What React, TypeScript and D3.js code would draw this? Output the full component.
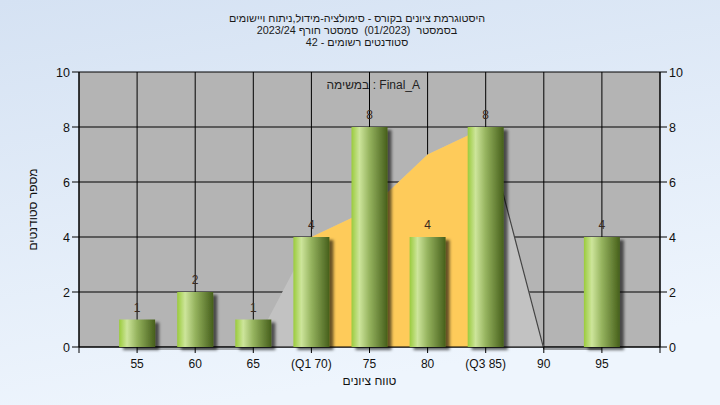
import * as React from 'react';
import * as d3 from 'd3';

// histogram data
const grades = [55, 60, 65, 70, 75, 80, 85, 90, 95];
const gradeLabels = ['55', '60', '65', '(Q1 70)', '75', '80', '(Q3 85)', '90', '95'];
const counts = [1, 2, 1, 4, 8, 4, 8, 0, 4];

// background distribution area (light gray) and quartile range (yellow)
const spreadGrades = [65, 70, 75, 80, 85, 90];
const spreadValues = [0, 4, 5, 7, 8, 0];
const quartileGrades = [70, 75, 80, 85];
const quartileValues = [4, 5, 7, 8];

// outline segments of the distribution line
const lineLeftGrades = [55, 60, 65];
const lineLeftValues = [0, 0, 0];
const lineRightGrades = [85, 90, 95];
const lineRightValues = [8, 0, 0];

const yTicks = [0, 2, 4, 6, 8, 10];
const gridGrades = [50, 55, 60, 65, 70, 75, 80, 85, 90, 95, 100];

const titleLines = [
  'היסטוגרמת ציונים בקורס - סימולציה-מידול,ניתוח ויישומים',
  'בסמסטר  (01/2023)  סמסטר חורף 2023/24',
  'סטודנטים רשומים - 42',
];

const W = 720;
const H = 405;
const margin = { top: 72, right: 60, bottom: 58, left: 79 };
const font = '"Liberation Sans", Arial, sans-serif';

export default function App() {
  const x = d3.scaleLinear().domain([50, 100]).range([margin.left, W - margin.right]);
  const y = d3.scaleLinear().domain([0, 10]).range([H - margin.bottom, margin.top]);
  const x0 = x(50);
  const x1 = x(100);
  const y0 = y(0);
  const yTop = y(10);
  const barW = 36;

  const area = d3.area<[number, number]>()
    .x(d => x(d[0]))
    .y0(y0)
    .y1(d => y(d[1]));
  const line = d3.line<[number, number]>()
    .x(d => x(d[0]))
    .y(d => (d[1] === 0 ? y0 + 2 : y(d[1])));

  const spread = spreadGrades.map((g, i) => [g, spreadValues[i]] as [number, number]);
  const quart = quartileGrades.map((g, i) => [g, quartileValues[i]] as [number, number]);
  const leftLine = lineLeftGrades.map((g, i) => [g, lineLeftValues[i]] as [number, number]);
  const rightLine = lineRightGrades.map((g, i) => [g, lineRightValues[i]] as [number, number]);

  return (
    <svg width={W} height={H} style={{ position: 'absolute', left: 0, top: 0, fontFamily: font }}>
      <defs>
        <linearGradient id="bg" x1="0" y1="0" x2="0.3" y2="1">
          <stop offset="0" stopColor="#d5e2f3" />
          <stop offset="1" stopColor="#eef5fd" />
        </linearGradient>
        <linearGradient id="bar" x1="0" y1="0" x2="1" y2="0">
          <stop offset="0" stopColor="#9acb3c" />
          <stop offset="0.22" stopColor="#cde59b" />
          <stop offset="0.5" stopColor="#95b35e" />
          <stop offset="1" stopColor="#465f1b" />
        </linearGradient>
        <filter id="shadow" x="-30%" y="-10%" width="160%" height="130%">
          <feDropShadow dx="4" dy="3" stdDeviation="1.8" floodColor="#000" floodOpacity="0.6" />
        </filter>
      </defs>

      <rect width={W} height={H} fill="url(#bg)" />

      {/* titles */}
      {titleLines.map((t, i) => (
        <text key={i} x={W / 2 - 3} y={22 + i * 12} textAnchor="middle" direction="rtl"
          fontSize={10.8} fill="#1a1a1a" style={{ whiteSpace: 'pre' }}>{t}</text>
      ))}

      {/* plot area */}
      <rect x={x0} y={yTop} width={x1 - x0} height={y0 - yTop} fill="#b4b4b4" />
      {yTicks.map(t => (
        <line key={'gy' + t} x1={x0} x2={x1} y1={y(t)} y2={y(t)} stroke="#000" strokeWidth={1} />
      ))}
      {gridGrades.map(g => (
        <line key={'gx' + g} x1={x(g)} x2={x(g)} y1={yTop} y2={y0} stroke="#000" strokeWidth={1} />
      ))}

      <path d={area(spread) || ''} fill="#c2c2c2" />
      <path d={area(quart) || ''} fill="#fecb5a" />
      <path d={line(leftLine) || ''} fill="none" stroke="#666" strokeWidth={1} />
      <path d={line(rightLine) || ''} fill="none" stroke="#444" strokeWidth={1.2} />

      <text x={x(71.3)} y={89} fontSize={12} fill="#222">במשימה : Final_A</text>

      {/* axes */}
      <line x1={x0} x2={x0} y1={yTop} y2={y0} stroke="#000" />
      <line x1={x1} x2={x1} y1={yTop} y2={y0} stroke="#000" />
      <line x1={x0} x2={x1} y1={y0} y2={y0} stroke="#000" />
      {yTicks.map(t => (
        <g key={'ty' + t}>
          <line x1={x0 - 7} x2={x0} y1={y(t)} y2={y(t)} stroke="#000" />
          <line x1={x1} x2={x1 + 7} y1={y(t)} y2={y(t)} stroke="#000" />
          <text x={x0 - 9} y={y(t) + 4.5} textAnchor="end" fontSize={12.5} fill="#111">{t}</text>
          <text x={x1 + 9} y={y(t) + 4.5} textAnchor="start" fontSize={12.5} fill="#111">{t}</text>
        </g>
      ))}
      {gridGrades.map(g => (
        <line key={'tx' + g} x1={x(g)} x2={x(g)} y1={y0} y2={y0 + 6} stroke="#000" />
      ))}
      {grades.map((g, i) => (
        <text key={'lx' + g} x={x(g)} y={y0 + 21} textAnchor="middle" fontSize={12} fill="#111">
          {gradeLabels[i]}
        </text>
      ))}

      {/* bars */}
      {grades.map((g, i) => counts[i] > 0 ? (
        <g key={'b' + g}>
          <rect x={x(g) - barW / 2} y={y(counts[i])} width={barW} height={y0 - y(counts[i])}
            fill="url(#bar)" filter="url(#shadow)" />
          <text x={x(g)} y={y(counts[i]) - 8} textAnchor="middle" fontSize={12} fill="#3a2a20">
            {counts[i]}
          </text>
        </g>
      ) : null)}

      {/* axis titles */}
      <text x={(x0 + x1) / 2} y={385} textAnchor="middle" fontSize={12} fill="#111">טווח ציונים</text>
      <text transform={`translate(37, ${(yTop + y0) / 2}) rotate(-90)`} textAnchor="middle"
        fontSize={12} fill="#111">מספר סטודנטים</text>
    </svg>
  );
}
